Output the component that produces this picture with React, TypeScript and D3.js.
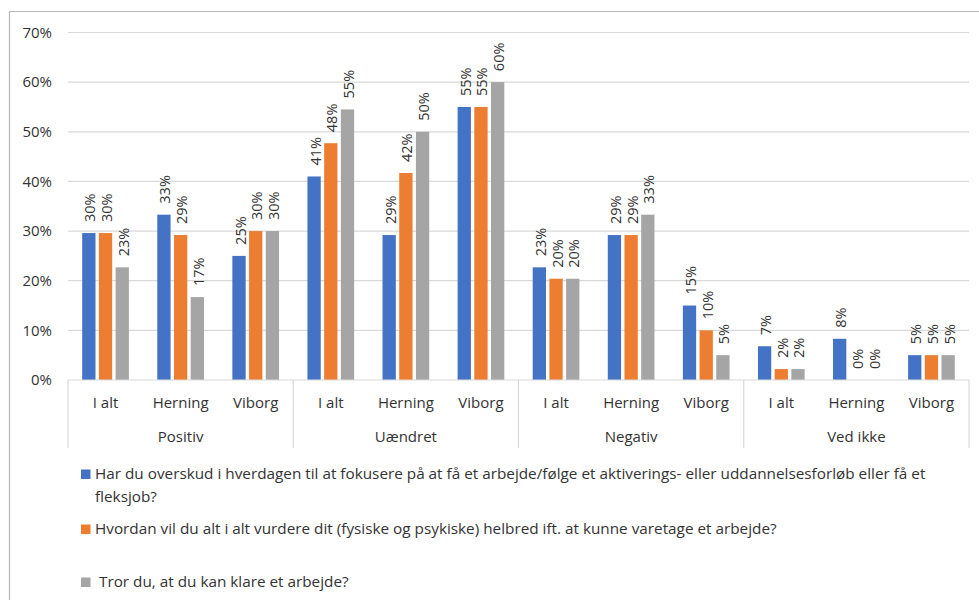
import React from "react";
import * as d3 from "d3";

const groups = ["Positiv", "Uændret", "Negativ", "Ved ikke"];
const subs = ["I alt", "Herning", "Viborg"];
const seriesNames = [
  "Har du overskud i hverdagen til at fokusere på at få et arbejde/følge et aktiverings- eller uddannelsesforløb eller få et|fleksjob?",
  "Hvordan vil du alt i alt vurdere dit (fysiske og psykiske) helbred ift. at kunne varetage et arbejde?",
  " Tror du, at du kan klare et arbejde?",
];
// values per category (groups x subs order)
const overskud = [0.296, 0.333, 0.25, 0.41, 0.292, 0.55, 0.227, 0.292, 0.15, 0.068, 0.083, 0.05];
const helbred = [0.296, 0.292, 0.3, 0.477, 0.417, 0.55, 0.204, 0.292, 0.1, 0.022, 0, 0.05];
const klare = [0.227, 0.167, 0.3, 0.545, 0.5, 0.6, 0.204, 0.333, 0.05, 0.022, 0, 0.05];
const yTicks = [0, 0.1, 0.2, 0.3, 0.4, 0.5, 0.6, 0.7];
const colors = ["#4472C4", "#ED7D31", "#A5A5A5"];

const FONT = "'Open Sans', 'Liberation Sans', Arial, sans-serif";
const TXT = "#333333";

export default function App() {
  const series = [overskud, helbred, klare];
  const left = 68, right = 969, top = 32.5, bottom = 380;
  const cats = groups.flatMap((g) => subs.map((s) => `${g}|${s}`));
  const x = d3.scaleBand().domain(cats).range([left, right]).padding(0);
  const y = d3.scaleLinear().domain([0, 0.7]).range([bottom, top]);
  const barW = 13.3, step = 16.7;
  const fmt = d3.format(".0%");
  const legendRows = [474, 529, 582];

  return (
    <svg width={979} height={600} style={{ position: "absolute", left: 0, top: 0, background: "#fff" }} fontFamily={FONT}>
      <rect x={0} y={0} width={979} height={600} fill="#fff" />
      <path d="M9.5,605 V11.5 H985" fill="none" stroke="#b8b8b8" strokeWidth={1.2} />
      {yTicks.map((t) => (
        <g key={t}>
          {t > 0 && <line x1={left} x2={right} y1={y(t)} y2={y(t)} stroke="#d9d9d9" strokeWidth={1.2} />}
          <text x={52} y={y(t)} dy="0.35em" textAnchor="end" fontSize={15} fill={TXT}>{fmt(t)}</text>
        </g>
      ))}
      {cats.map((c, i) =>
        series.map((s, k) => {
          const v = s[i];
          const cx = (x(c) as number) + x.bandwidth() / 2 + (k - 1) * step;
          const yt = y(v);
          return (
            <g key={c + k}>
              {v > 0 && <rect x={cx - barW / 2} y={yt} width={barW} height={bottom - yt} fill={colors[k]} />}
              <text transform={`translate(${cx + 1},${yt - 11}) rotate(-90)`} dominantBaseline="central" fontSize={14.5} fill={TXT}>
                {fmt(v)}
              </text>
            </g>
          );
        })
      )}
      <line x1={left} x2={right} y1={bottom} y2={bottom} stroke="#d9d9d9" strokeWidth={1.2} />
      {d3.range(groups.length + 1).map((g) => {
        const gx = left + g * 3 * x.bandwidth();
        return <line key={g} x1={gx} x2={gx} y1={bottom} y2={448} stroke="#d9d9d9" strokeWidth={1.2} />;
      })}
      {cats.map((c) => (
        <text key={c} x={(x(c) as number) + x.bandwidth() / 2} y={403} dy="0.35em" textAnchor="middle" fontSize={15} fill={TXT}>
          {c.split("|")[1]}
        </text>
      ))}
      {groups.map((g, i) => (
        <text key={g} x={left + (i * 3 + 1.5) * x.bandwidth()} y={437} dy="0.35em" textAnchor="middle" fontSize={15} fill={TXT}>
          {g}
        </text>
      ))}
      {seriesNames.map((n, k) => {
        const lines = n.split("|");
        return (
          <g key={k}>
            <rect x={81} y={legendRows[k] - 4.5} width={9.5} height={9.5} fill={colors[k]} />
            {lines.map((ln, j) => (
              <text key={j} x={95} y={legendRows[k] + j * 23} dy="0.35em" fontSize={15.3} fill={TXT} style={{ whiteSpace: "pre" }}>
                {ln}
              </text>
            ))}
          </g>
        );
      })}
    </svg>
  );
}
